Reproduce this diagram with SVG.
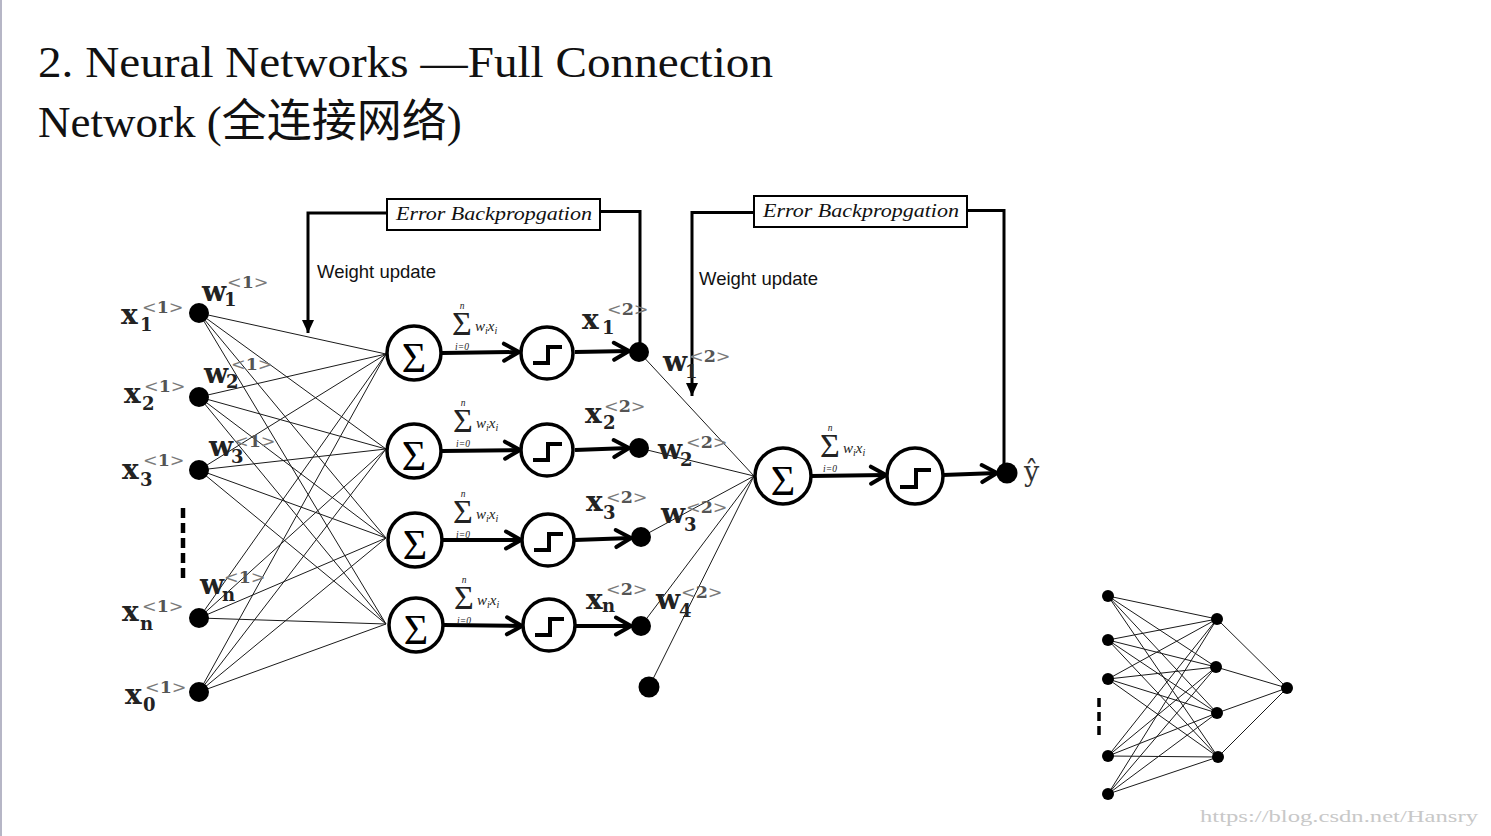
<svg xmlns="http://www.w3.org/2000/svg" width="1491" height="836" viewBox="0 0 1491 836">
<style>
.title{font-family:"Liberation Serif","Noto Sans CJK SC",serif;font-size:45px;fill:#111}
.v{font-family:"DejaVu Serif",serif;font-weight:bold;font-size:28px;fill:#222}
.sb{font-family:"DejaVu Serif",serif;font-weight:bold;font-size:18px;fill:#222}
.sp{font-family:"DejaVu Serif",serif;font-size:17.5px;fill:#7a7a7a}
.sp tspan{font-weight:bold;fill:#555}
.thin{stroke:#1a1a1a;stroke-width:1;fill:none}
.thick{stroke:#000;stroke-width:4;fill:none}
.fb{stroke:#000;stroke-width:3;fill:none}
.dot{fill:#000}
.circ{fill:#fff;stroke:#000;stroke-width:3.5}
.step{fill:none;stroke:#000;stroke-width:4}
.bigS{font-family:"Liberation Serif",serif;font-size:42px;fill:#000;text-anchor:middle}
.fi{font-family:"Liberation Serif",serif;font-style:italic;fill:#222}
.fs{font-family:"Liberation Serif",serif;font-size:34px;fill:#222;text-anchor:middle}
.box{fill:#fff;stroke:#000;stroke-width:2}
.eb{font-family:"Liberation Serif",serif;font-style:italic;font-size:19px;fill:#111}
.wu{font-family:"Liberation Sans",sans-serif;font-size:18.5px;fill:#111}
.wm{font-family:"Liberation Serif",serif;font-size:17px;fill:#c8c8c8}
</style>
<defs>
<marker id="chev" markerUnits="userSpaceOnUse" markerWidth="22" markerHeight="22" viewBox="0 0 22 22" refX="18" refY="11" orient="auto">
<path d="M3,2.5 L18,11 L3,19.5" fill="none" stroke="#000" stroke-width="4" stroke-linecap="round" stroke-linejoin="round"/>
</marker>
<marker id="tri" markerUnits="userSpaceOnUse" markerWidth="14" markerHeight="14" viewBox="0 0 14 14" refX="13" refY="6.5" orient="auto">
<path d="M0,0.5 L13,6.5 L0,12.5 z" fill="#000"/>
</marker>
</defs>
<rect width="1491" height="836" fill="#fff"/>
<rect x="0" y="0" width="2" height="836" fill="#b6b6c6"/>

<g id="title">
<text class="title" x="38" y="77" textLength="735" lengthAdjust="spacingAndGlyphs">2. Neural Networks  —Full Connection</text>
<text class="title" x="38" y="137">Network (全连接网络)</text>
</g>

<g id="connectors">
<g class="thin">
<path d="M199,313 L386,354 M199,313 L386,449 M199,313 L386,538 M199,313 L386,624"/>
<path d="M199,397 L386,354 M199,397 L386,449 M199,397 L386,538 M199,397 L386,624"/>
<path d="M199,470 L386,354 M199,470 L386,449 M199,470 L386,538 M199,470 L386,624"/>
<path d="M199,618 L386,354 M199,618 L386,449 M199,618 L386,538 M199,618 L386,624"/>
<path d="M199,692 L386,354 M199,692 L386,449 M199,692 L386,538 M199,692 L386,624"/>
<path d="M639,352 L754,476 M639,448 L754,476 M641,537 L754,476 M641,626 L754,476 M649,687 L754,476"/>
</g>
<g class="thick">
<path d="M442,353 L519,352" marker-end="url(#chev)"/>
<path d="M575,352 L629,351" marker-end="url(#chev)"/>
<path d="M442,451 L520,450" marker-end="url(#chev)"/>
<path d="M575,450 L629,448" marker-end="url(#chev)"/>
<path d="M443,540 L521,540" marker-end="url(#chev)"/>
<path d="M575,540 L631,538" marker-end="url(#chev)"/>
<path d="M444,625 L522,626" marker-end="url(#chev)"/>
<path d="M576,626 L631,626" marker-end="url(#chev)"/>
<path d="M811,476 L886,475" marker-end="url(#chev)"/>
<path d="M943,475 L997,473" marker-end="url(#chev)"/>
</g>
<g class="fb">
<path d="M640,352 V211.5 H601"/>
<path d="M387,213 H308 V333" marker-end="url(#tri)"/>
<path d="M1004,473 V210.5 H968"/>
<path d="M754,212.5 H692 V396" marker-end="url(#tri)"/>
</g>
<path d="M183,508 V580" stroke="#000" stroke-width="4.5" stroke-dasharray="10,5"/>
</g>

<g id="inputs">
<circle class="dot" cx="199" cy="313" r="10"/>
<circle class="dot" cx="199" cy="397" r="10"/>
<circle class="dot" cx="199" cy="470" r="10"/>
<circle class="dot" cx="199" cy="618" r="10"/>
<circle class="dot" cx="199" cy="692" r="10"/>
</g>

<g id="sum-nodes">
<circle class="circ" cx="414" cy="353" r="27"/><text class="bigS" x="414" y="372">Σ</text>
<circle class="circ" cx="414" cy="451" r="27"/><text class="bigS" x="414" y="470">Σ</text>
<circle class="circ" cx="415" cy="540" r="27"/><text class="bigS" x="415" y="559">Σ</text>
<circle class="circ" cx="416" cy="625" r="27"/><text class="bigS" x="416" y="644">Σ</text>
<circle class="circ" cx="783" cy="476" r="28"/><text class="bigS" x="783" y="495">Σ</text>
</g>

<g id="step-nodes">
<circle class="circ" cx="547" cy="353" r="26"/><path class="step" d="M533,363 H548 V347 H562"/>
<circle class="circ" cx="547" cy="450" r="26"/><path class="step" d="M533,460 H548 V444 H562"/>
<circle class="circ" cx="548" cy="540" r="26"/><path class="step" d="M534,550 H549 V534 H563"/>
<circle class="circ" cx="549" cy="625" r="26"/><path class="step" d="M535,635 H550 V619 H564"/>
<circle class="circ" cx="915" cy="476" r="28"/><path class="step" d="M900,487 H916 V470 H931"/>
</g>

<g id="hidden-outputs">
<circle class="dot" cx="639" cy="352" r="10"/>
<circle class="dot" cx="639" cy="448" r="10"/>
<circle class="dot" cx="641" cy="537" r="10"/>
<circle class="dot" cx="641" cy="626" r="10"/>
<circle class="dot" cx="649" cy="687" r="10.5"/>
</g>

<g id="output">
<circle class="dot" cx="1007" cy="473" r="10.5"/>
<text x="1024" y="481" font-family="DejaVu Serif, serif" font-size="27" fill="#333">ŷ</text>
</g>

<g id="sum-formulas">
<g id="f1">
<text class="fi" x="462" y="309" font-size="9.5" text-anchor="middle">n</text>
<text class="fs" x="462" y="335">Σ</text>
<text class="fi" x="462" y="350" font-size="9.5" text-anchor="middle">i=0</text>
<text class="fi" x="475" y="331" font-size="15">w<tspan font-size="10" dy="3">i</tspan><tspan dy="-3">x</tspan><tspan font-size="10" dy="3">i</tspan></text>
</g>
<g id="f2" transform="translate(1,97)">
<text class="fi" x="462" y="309" font-size="9.5" text-anchor="middle">n</text>
<text class="fs" x="462" y="335">Σ</text>
<text class="fi" x="462" y="350" font-size="9.5" text-anchor="middle">i=0</text>
<text class="fi" x="475" y="331" font-size="15">w<tspan font-size="10" dy="3">i</tspan><tspan dy="-3">x</tspan><tspan font-size="10" dy="3">i</tspan></text>
</g>
<g id="f3" transform="translate(1,188)">
<text class="fi" x="462" y="309" font-size="9.5" text-anchor="middle">n</text>
<text class="fs" x="462" y="335">Σ</text>
<text class="fi" x="462" y="350" font-size="9.5" text-anchor="middle">i=0</text>
<text class="fi" x="475" y="331" font-size="15">w<tspan font-size="10" dy="3">i</tspan><tspan dy="-3">x</tspan><tspan font-size="10" dy="3">i</tspan></text>
</g>
<g id="f4" transform="translate(2,274)">
<text class="fi" x="462" y="309" font-size="9.5" text-anchor="middle">n</text>
<text class="fs" x="462" y="335">Σ</text>
<text class="fi" x="462" y="350" font-size="9.5" text-anchor="middle">i=0</text>
<text class="fi" x="475" y="331" font-size="15">w<tspan font-size="10" dy="3">i</tspan><tspan dy="-3">x</tspan><tspan font-size="10" dy="3">i</tspan></text>
</g>
<g id="f5" transform="translate(368,122)">
<text class="fi" x="462" y="309" font-size="9.5" text-anchor="middle">n</text>
<text class="fs" x="462" y="335">Σ</text>
<text class="fi" x="462" y="350" font-size="9.5" text-anchor="middle">i=0</text>
<text class="fi" x="475" y="331" font-size="15">w<tspan font-size="10" dy="3">i</tspan><tspan dy="-3">x</tspan><tspan font-size="10" dy="3">i</tspan></text>
</g>
</g>

<g id="labels">
<text class="v" x="121" y="324">x</text><text class="sb" x="140" y="331">1</text><text class="sp" x="142" y="313">&lt;<tspan>1</tspan>&gt;</text>
<text class="v" x="124" y="403">x</text><text class="sb" x="142" y="410">2</text><text class="sp" x="144" y="392">&lt;<tspan>1</tspan>&gt;</text>
<text class="v" x="122" y="479">x</text><text class="sb" x="140" y="486">3</text><text class="sp" x="143" y="466">&lt;<tspan>1</tspan>&gt;</text>
<text class="v" x="122" y="621">x</text><text class="sb" x="140" y="630">n</text><text class="sp" x="142" y="612">&lt;<tspan>1</tspan>&gt;</text>
<text class="v" x="125" y="704">x</text><text class="sb" x="143" y="711">0</text><text class="sp" x="145" y="693">&lt;<tspan>1</tspan>&gt;</text>

<text class="v" x="202" y="301">w</text><text class="sb" x="224" y="306">1</text><text class="sp" x="227" y="288">&lt;<tspan>1</tspan>&gt;</text>
<text class="v" x="204" y="383">w</text><text class="sb" x="226" y="388">2</text><text class="sp" x="231" y="370">&lt;<tspan>1</tspan>&gt;</text>
<text class="v" x="209" y="456">w</text><text class="sb" x="231" y="463">3</text><text class="sp" x="234" y="447">&lt;<tspan>1</tspan>&gt;</text>
<text class="v" x="200" y="594">w</text><text class="sb" x="222" y="601">n</text><text class="sp" x="224" y="583">&lt;<tspan>1</tspan>&gt;</text>

<text class="v" x="582" y="329">x</text><text class="sb" x="602" y="334">1</text><text class="sp" x="607" y="315">&lt;<tspan>2</tspan>&gt;</text>
<text class="v" x="585" y="423">x</text><text class="sb" x="603" y="429">2</text><text class="sp" x="604" y="412">&lt;<tspan>2</tspan>&gt;</text>
<text class="v" x="586" y="511">x</text><text class="sb" x="603" y="519">3</text><text class="sp" x="606" y="503">&lt;<tspan>2</tspan>&gt;</text>
<text class="v" x="586" y="609">x</text><text class="sb" x="602" y="612">n</text><text class="sp" x="606" y="595">&lt;<tspan>2</tspan>&gt;</text>

<text class="v" x="663" y="371">w</text><text class="sb" x="685" y="378">1</text><text class="sp" x="689" y="362">&lt;<tspan>2</tspan>&gt;</text>
<text class="v" x="658" y="459">w</text><text class="sb" x="680" y="466">2</text><text class="sp" x="686" y="448">&lt;<tspan>2</tspan>&gt;</text>
<text class="v" x="661" y="523">w</text><text class="sb" x="684" y="531">3</text><text class="sp" x="686" y="513">&lt;<tspan>2</tspan>&gt;</text>
<text class="v" x="656" y="609">w</text><text class="sb" x="679" y="617">4</text><text class="sp" x="681" y="598">&lt;<tspan>2</tspan>&gt;</text>
</g>

<g id="backprop-1">
<rect class="box" x="387" y="199" width="213" height="31"/>
<text class="eb" x="396" y="220" textLength="196" lengthAdjust="spacingAndGlyphs">Error Backpropgation</text>
<text class="wu" x="317" y="278">Weight update</text>
</g>
<g id="backprop-2">
<rect class="box" x="754" y="196" width="213" height="31"/>
<text class="eb" x="763" y="217" textLength="196" lengthAdjust="spacingAndGlyphs">Error Backpropgation</text>
<text class="wu" x="699" y="285">Weight update</text>
</g>

<g id="mini-network">
<g class="thin" stroke="#333">
<path d="M1108,596 L1217,619 M1108,596 L1216,667 M1108,596 L1217,713 M1108,596 L1218,757"/>
<path d="M1108,640 L1217,619 M1108,640 L1216,667 M1108,640 L1217,713 M1108,640 L1218,757"/>
<path d="M1108,679 L1217,619 M1108,679 L1216,667 M1108,679 L1217,713 M1108,679 L1218,757"/>
<path d="M1108,756 L1217,619 M1108,756 L1216,667 M1108,756 L1217,713 M1108,756 L1218,757"/>
<path d="M1108,794 L1217,619 M1108,794 L1216,667 M1108,794 L1217,713 M1108,794 L1218,757"/>
<path d="M1217,619 L1287,688 M1216,667 L1287,688 M1217,713 L1287,688 M1218,757 L1287,688"/>
</g>
<path d="M1099,698 V737" stroke="#000" stroke-width="3.5" stroke-dasharray="9,5"/>
<circle class="dot" cx="1108" cy="596" r="6"/>
<circle class="dot" cx="1108" cy="640" r="6"/>
<circle class="dot" cx="1108" cy="679" r="6"/>
<circle class="dot" cx="1108" cy="756" r="6"/>
<circle class="dot" cx="1108" cy="794" r="6"/>
<circle class="dot" cx="1217" cy="619" r="6"/>
<circle class="dot" cx="1216" cy="667" r="6"/>
<circle class="dot" cx="1217" cy="713" r="6"/>
<circle class="dot" cx="1218" cy="757" r="6"/>
<circle class="dot" cx="1287" cy="688" r="6"/>
</g>

<text class="wm" x="1200" y="822" textLength="278" lengthAdjust="spacingAndGlyphs">https://blog.csdn.net/Hansry</text>
</svg>
